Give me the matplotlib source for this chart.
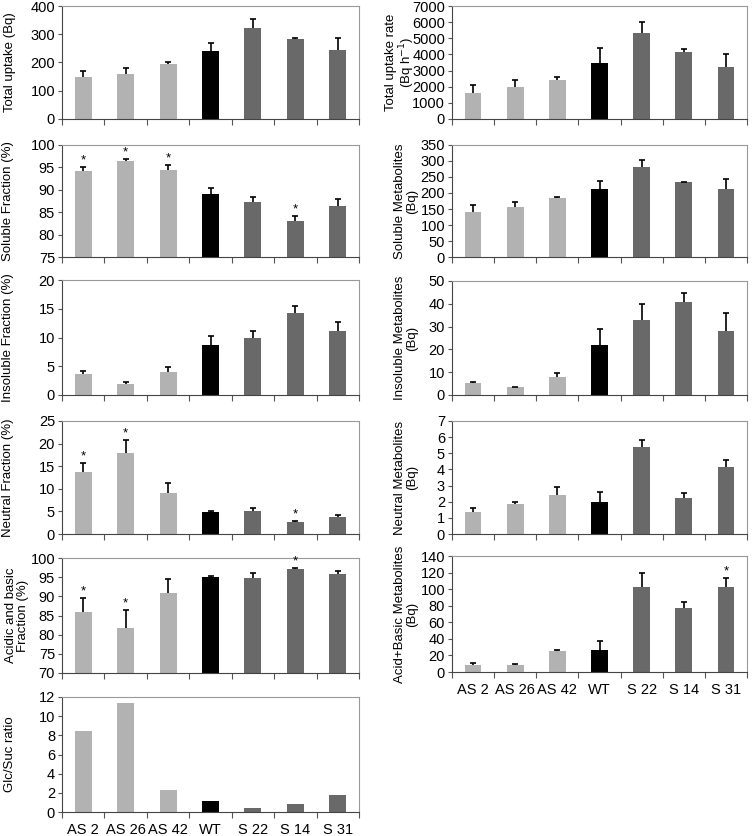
import numpy as np
import matplotlib.pyplot as plt

plt.rcParams['font.family'] = ['Liberation Sans', 'DejaVu Sans']

lines = ['AS 2', 'AS 26', 'AS 42', 'WT', 'S 22', 'S 14', 'S 31']
colors = ['#b2b2b2'] * 3 + ['#000000'] + ['#696969'] * 3

# left column
total_uptake = [148, 160, 195, 240, 323, 282, 245]
total_uptake_err = [23, 20, 5, 30, 30, 5, 40]
soluble_frac = [94.1, 96.5, 94.5, 89.0, 87.2, 83.0, 86.4]
soluble_frac_err = [1.0, 0.3, 1.0, 1.4, 1.2, 1.2, 1.6]
soluble_frac_sig = [1, 1, 1, 0, 0, 1, 0]
insoluble_frac = [3.6, 2.0, 4.0, 8.7, 9.9, 14.3, 11.1]
insoluble_frac_err = [0.6, 0.2, 0.9, 1.6, 1.3, 1.2, 1.6]
neutral_frac = [13.8, 18.0, 9.1, 4.8, 5.1, 2.7, 3.8]
neutral_frac_err = [2.0, 2.7, 2.2, 0.2, 0.7, 0.2, 0.5]
neutral_frac_sig = [1, 1, 0, 0, 0, 1, 0]
acidbasic_frac = [86.0, 81.8, 90.8, 95.1, 94.8, 97.1, 95.9]
acidbasic_frac_err = [3.6, 4.6, 3.7, 0.1, 1.2, 0.3, 0.7]
acidbasic_frac_sig = [1, 1, 0, 0, 0, 1, 0]
glc_suc = [8.5, 11.4, 2.3, 1.2, 0.4, 0.8, 1.8]

# right column
uptake_rate = [1580, 2000, 2430, 3500, 5350, 4150, 3200]
uptake_rate_err = [500, 430, 150, 900, 650, 200, 850]
soluble_met = [140, 155, 183, 213, 282, 233, 211]
soluble_met_err = [22, 18, 5, 23, 22, 2, 33]
insoluble_met = [5.2, 3.3, 7.9, 22.0, 33.0, 40.8, 28.0]
insoluble_met_err = [0.5, 0.4, 1.8, 6.8, 6.8, 4.0, 8.0]
neutral_met = [1.35, 1.88, 2.42, 2.0, 5.38, 2.22, 4.15]
neutral_met_err = [0.27, 0.13, 0.5, 0.6, 0.45, 0.3, 0.45]
acidbasic_met = [8.5, 8.5, 25, 26, 103, 77, 102]
acidbasic_met_err = [2, 1.5, 2, 12, 16, 7, 11]
acidbasic_met_sig = [0, 0, 0, 0, 0, 0, 1]

W, H = 752, 836
fig = plt.figure(figsize=(W / 100, H / 100), dpi=100)


def make_ax(x0, x1, top, bottom):
    return fig.add_axes([x0 / W, 1 - bottom / H, (x1 - x0) / W, (bottom - top) / H])


def panel(ax, vals, err, sig, ylim, step, ylabel, labx, show_x):
    x = np.arange(len(vals))
    vals = np.array(vals, dtype=float)
    ax.bar(x, vals, width=0.4, color=colors, zorder=2)
    if err is not None:
        err = np.array(err, dtype=float)
        _, caps, _ = ax.errorbar(x, vals, yerr=[np.zeros_like(err), err], fmt='none',
                                 ecolor='black', elinewidth=1.2, capsize=2.5,
                                 capthick=1.2, zorder=3)
        caps[0].set_visible(False)
        if sig is not None:
            span = ylim[1] - ylim[0]
            for xi, v, e, s in zip(x, vals, err, sig):
                if s:
                    ax.text(xi, v + e + span * 0.005, '*', ha='center', va='bottom',
                            fontsize=9.5)
    ax.set_xlim(-0.5, len(vals) - 0.5)
    ax.set_ylim(*ylim)
    ax.set_yticks(np.arange(ylim[0], ylim[1] + step / 2, step))
    ax.set_xticks(np.arange(-0.5, len(vals)), minor=False)
    ax.set_xticklabels([])
    ax.set_xticks(x, minor=True)
    if show_x:
        ax.set_xticklabels(lines, minor=True, fontsize=10.5)
    ax.tick_params(axis='x', which='major', direction='out', length=4, width=0.8,
                   color='#555555')
    ax.tick_params(axis='x', which='minor', length=0, pad=8)
    ax.tick_params(axis='y', direction='out', length=3, width=0.8, labelsize=10.5,
                   color='#555555', pad=2)
    for s in ['top', 'right']:
        ax.spines[s].set_color('#999999')
        ax.spines[s].set_linewidth(0.8)
    for s in ['left', 'bottom']:
        ax.spines[s].set_color('#444444')
        ax.spines[s].set_linewidth(0.8)
    ax.set_ylabel(ylabel, fontsize=9.5, va='center', ha='center', multialignment='center',
                  linespacing=1.1)
    ax.yaxis.set_label_coords(labx, 0.5)


L0, L1 = 62, 359
R0, R1 = 452, 747

ax = make_ax(L0, L1, 6, 119)
panel(ax, total_uptake, total_uptake_err, None, (0, 400), 100, 'Total uptake (Bq)',
      (10 - L0) / (L1 - L0), False)
ax = make_ax(L0, L1, 145, 257)
panel(ax, soluble_frac, soluble_frac_err, soluble_frac_sig, (75, 100), 5,
      'Soluble Fraction (%)', (8 - L0) / (L1 - L0), False)
ax = make_ax(L0, L1, 280, 395)
panel(ax, insoluble_frac, insoluble_frac_err, None, (0, 20), 5,
      'Insoluble Fraction (%)', (8 - L0) / (L1 - L0), False)
ax = make_ax(L0, L1, 421, 534)
panel(ax, neutral_frac, neutral_frac_err, neutral_frac_sig, (0, 25), 5,
      'Neutral Fraction (%)', (8 - L0) / (L1 - L0), False)
ax = make_ax(L0, L1, 558, 673)
panel(ax, acidbasic_frac, acidbasic_frac_err, acidbasic_frac_sig, (70, 100), 5,
      'Acidic and basic\nFraction (%)', (17 - L0) / (L1 - L0), False)
ax = make_ax(L0, L1, 697, 812)
panel(ax, glc_suc, None, None, (0, 12), 2, 'Glc/Suc ratio', (10 - L0) / (L1 - L0), True)

ax = make_ax(R0, R1, 6, 119)
panel(ax, uptake_rate, uptake_rate_err, None, (0, 7000), 1000,
      'Total uptake rate\n(Bq h$^{-1}$)', (401 - R0) / (R1 - R0), False)
ax = make_ax(R0, R1, 145, 257)
panel(ax, soluble_met, soluble_met_err, None, (0, 350), 50,
      'Soluble Metabolites\n(Bq)', (406 - R0) / (R1 - R0), False)
ax = make_ax(R0, R1, 281, 395)
panel(ax, insoluble_met, insoluble_met_err, None, (0, 50), 10,
      'Insoluble Metabolites\n(Bq)', (406 - R0) / (R1 - R0), False)
ax = make_ax(R0, R1, 421, 534)
panel(ax, neutral_met, neutral_met_err, None, (0, 7), 1,
      'Neutral Metabolites\n(Bq)', (406 - R0) / (R1 - R0), False)
ax = make_ax(R0, R1, 556, 672)
panel(ax, acidbasic_met, acidbasic_met_err, acidbasic_met_sig, (0, 140), 20,
      'Acid+Basic Metabolites\n(Bq)', (406 - R0) / (R1 - R0), True)

fig.savefig('out.png', dpi=100)
